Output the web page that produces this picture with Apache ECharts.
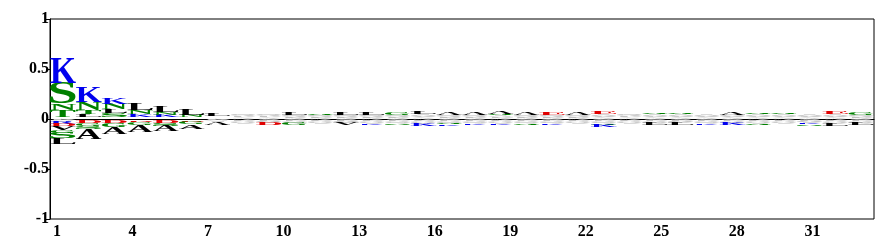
<!DOCTYPE html>
<html><head><meta charset="utf-8">
<script src="https://cdn.jsdelivr.net/npm/echarts@6/dist/echarts.min.js"></script>
<style>html,body{margin:0;padding:0;background:#fff}#c{width:876px;height:240px}</style>
</head><body><div id="c"></div>
<script>
// ---- data ----
const positions = Array.from({length: 32}, (_, i) => String(i + 1));
const tickLabels = ['1','4','7','10','13','16','19','22','25','28','31'];
const yTicks = [-1, -0.5, 0, 0.5, 1];

// positive stacks: colored letters listed from the zero line upward
const upLetters = ['TNSK','LTNK','SLNK','KNL','KNL','NL','L','','','L','G','L','L','G','L','A','A','GA','A','E','A','E','','G','G','','A','G','G','','E','G'];
const upHeights = [[0.07,0.06,0.21,0.25],[0.03,0.04,0.08,0.15],[0.04,0.04,0.05,0.06],[0.03,0.04,0.07],[0.02,0.03,0.05],[0.02,0.05],[0.03],[],[],[0.02],[0.015],[0.03],[0.02],[0.02],[0.025],[0.02],[0.02],[0.015,0.02],[0.025],[0.025],[0.02],[0.025],[],[0.015],[0.015],[],[0.02],[0.015],[0.015],[],[0.02],[0.02]];
const upGray = [0.02,0.02,0.02,0.02,0.02,0.02,0.025,0.05,0.05,0.04,0.04,0.04,0.04,0.04,0.045,0.04,0.04,0.035,0.04,0.04,0.04,0.045,0.05,0.045,0.045,0.045,0.045,0.045,0.045,0.045,0.045,0.04];

// negative stacks: colored letters listed from the zero line downward
const downLetters = ['RDVGSL','DGSA','DGA','DGA','DSA','DGA','A','','D','G','','V','K','S','K','GK','K','K','G','K','','GK','','L','L','K','K','G','','KS','L','L'];
const downHeights = [[0.02,0.02,0.04,0.03,0.05,0.06],[0.02,0.03,0.03,0.10],[0.02,0.04,0.07],[0.015,0.03,0.065],[0.02,0.03,0.05],[0.015,0.02,0.04],[0.03],[],[0.02],[0.02],[],[0.02],[0.015],[0.015],[0.02],[0.01,0.015],[0.015],[0.015],[0.015],[0.015],[],[0.015,0.02],[],[0.02],[0.02],[0.015],[0.02],[0.015],[],[0.015,0.015],[0.02],[0.02]];
const downGray = [0.03,0.02,0.02,0.02,0.02,0.02,0.03,0.05,0.04,0.045,0.05,0.04,0.05,0.045,0.05,0.045,0.045,0.05,0.045,0.045,0.05,0.045,0.05,0.045,0.04,0.045,0.045,0.05,0.05,0.04,0.05,0.045];

const grayLetters = 'AVPGQI';
// ---- styles ----
const colorOf = ch => ('KRH'.includes(ch) ? '#0000ee' : 'DE'.includes(ch) ? '#e00000' : 'STNQGCY'.includes(ch) ? '#008000' : '#000000');
const grayShades = ['#c2c2c2', '#dadada'];
const FONT = 'bold 100px "Liberation Serif"';

const mctx = document.createElement('canvas').getContext('2d');
mctx.font = FONT; mctx.textAlign = 'center'; mctx.textBaseline = 'middle';
const metricCache = {};
function metrics(ch) {
  if (!metricCache[ch]) {
    const m = mctx.measureText(ch);
    metricCache[ch] = {l: -m.actualBoundingBoxLeft, r: m.actualBoundingBoxRight, t: -m.actualBoundingBoxAscent, b: m.actualBoundingBoxDescent};
  }
  return metricCache[ch];
}

// build glyph boxes
const boxes = [], glyphs = [], colors = [];
function push(i, a, b, ch, col) { boxes.push([i, a, b]); glyphs.push(ch); colors.push(col); }
for (let i = 0; i < positions.length; i++) {
  let y = 0;
  const gu = upGray[i] / grayLetters.length;
  for (let k = 0; k < grayLetters.length; k++) { push(i, y, y + gu, grayLetters[k], grayShades[k % 2]); y += gu; }
  for (let k = 0; k < upLetters[i].length; k++) { const h = upHeights[i][k]; push(i, y, y + h, upLetters[i][k], colorOf(upLetters[i][k])); y += h; }
  y = 0;
  const gd = downGray[i] / grayLetters.length;
  for (let k = 0; k < grayLetters.length; k++) { push(i, y - gd, y, grayLetters[k], grayShades[k % 2]); y -= gd; }
  for (let k = 0; k < downLetters[i].length; k++) { const h = downHeights[i][k]; push(i, y - h, y, downLetters[i][k], colorOf(downLetters[i][k])); y -= h; }
}

const chart = echarts.init(document.getElementById('c'), null, {renderer: 'canvas'});
const labelFont = {fontFamily: '"Liberation Serif", serif', fontWeight: 'bold', color: '#000'};
chart.setOption({
  animation: false,
  grid: [
    {left: 50, top: 19, width: 824, height: 200, show: true, borderColor: '#000', borderWidth: 1, backgroundColor: 'transparent'},
    {left: 57, top: 19, width: 755.4, height: 200}
  ],
  xAxis: [
    {type: 'category', gridIndex: 0, data: positions, boundaryGap: true,
     axisLine: {show: true, lineStyle: {color: '#000', width: 1}}, axisTick: {show: false}, axisLabel: {show: false}, splitLine: {show: false}},
    {type: 'category', gridIndex: 1, data: tickLabels, boundaryGap: false,
     axisLine: {show: false}, axisTick: {show: false}, splitLine: {show: false},
     axisLabel: Object.assign({interval: 0, fontSize: 16, margin: 12}, labelFont)}
  ],
  yAxis: [
    {type: 'value', gridIndex: 0, min: yTicks[0], max: yTicks[yTicks.length - 1], interval: 0.5,
     axisLine: {show: true, lineStyle: {color: '#000', width: 1}},
     axisTick: {show: true, length: 4, lineStyle: {color: '#000'}}, splitLine: {show: false},
     axisLabel: Object.assign({fontSize: 16, margin: 1}, labelFont)},
    {type: 'value', gridIndex: 1, show: false}
  ],
  series: [{
    type: 'custom', xAxisIndex: 0, yAxisIndex: 0, silent: true,
    data: boxes,
    renderItem: function (params, api) {
      const idx = params.dataIndex;
      const i = api.value(0), a = api.value(1), b = api.value(2);
      const pTop = api.coord([i, b]), pBot = api.coord([i, a]);
      const w = api.size([1, 0])[0];
      const x0 = pTop[0] - w / 2, x1 = pTop[0] + w / 2;
      const yTop = pTop[1], yBot = pBot[1];
      const ch = glyphs[idx];
      const m = metrics(ch);
      const sx = (x1 - x0) / (m.r - m.l), sy = (yBot - yTop) / (m.b - m.t);
      return {
        type: 'text', x: x0 - m.l * sx, y: yTop - m.t * sy, scaleX: sx, scaleY: sy,
        style: {text: ch, font: FONT, fill: colors[idx], align: 'center', verticalAlign: 'middle'}
      };
    }
  }]
});
</script>
</body></html>
